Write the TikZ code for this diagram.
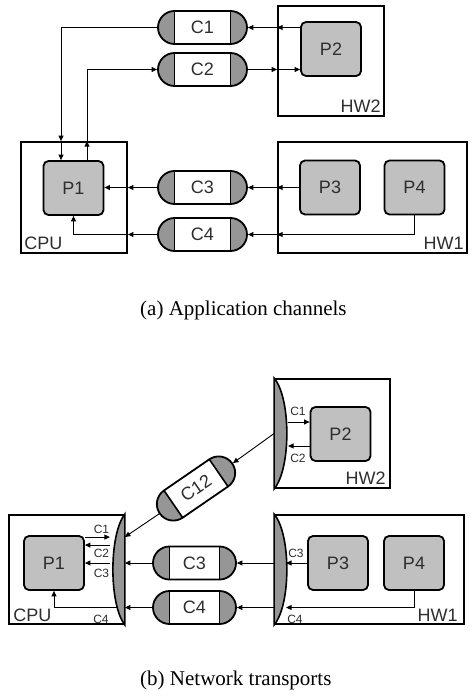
\documentclass[tikz,border=0pt]{standalone}
\usepackage{fontspec}
\setmainfont{Liberation Serif}
\setsansfont{Liberation Sans}
\usetikzlibrary{arrows.meta,calc}

\definecolor{procgray}{RGB}{192,192,192}
\definecolor{capgray}{RGB}{150,150,150}
\definecolor{ink}{RGB}{45,45,45}

% channel: [rotation]{name}{centre}{length}{label}
\newcommand{\chan}[5][0]{%
  \begin{scope}[shift={#3}, rotate=#1]
    \fill[capgray] ({-#4/2+16.5},16.5) arc[start angle=90, end angle=270, radius=16.5pt] -- cycle;
    \fill[capgray] ({#4/2-16.5},-16.5) arc[start angle=-90, end angle=90, radius=16.5pt] -- cycle;
    \draw[line width=1.6pt] ({-#4/2+16.5},16.5) -- ({-#4/2+16.5},-16.5);
    \draw[line width=1.6pt] ({#4/2-16.5},16.5) -- ({#4/2-16.5},-16.5);
    \node[chan, minimum width=#4pt, transform shape] (#2) at (0,0) {#5};
  \end{scope}}

\begin{document}
\begin{tikzpicture}[x=1pt, y=1pt,
    unit/.style={draw, line width=1.8pt, inner sep=0pt},
    proc/.style={draw, line width=1.8pt, rounded corners=5pt, fill=procgray,
      minimum width=60pt, minimum height=54pt, inner sep=0pt,
      font=\fontsize{18}{21}\selectfont\sffamily, text=ink},
    chan/.style={draw, line width=1.8pt, rounded corners=16.5pt, minimum height=33pt,
      inner sep=0pt, font=\fontsize{18}{21}\selectfont\sffamily, text=ink},
    lens/.style={fill=capgray, draw, line width=1.6pt},
    lab/.style={font=\fontsize{18}{21}\selectfont\sffamily, text=ink, inner sep=0pt},
    tag/.style={font=\fontsize{12}{14}\selectfont\sffamily, text=ink, inner sep=0pt},
    caption/.style={font=\fontsize{21}{25}\selectfont, inner sep=0pt},
    arr/.style={-{Triangle[length=5.5pt, width=5pt]}, line width=0.9pt}]
\useasboundingbox (0,0) rectangle (472,-698);

% --- (a) application channels
\node[unit, minimum width=106pt, minimum height=110pt] (hw2) at (331,-61) {};
\node[proc] (p2) at (331,-49) {P2};
\node[lab, anchor=base east] (hw2lab) at ([shift={(-4,4)}]hw2.south east) {HW2};

\node[unit, minimum width=106pt, minimum height=111pt] (cpu) at (74,-197.5) {};
\node[proc] (p1) at (73.5,-188) {P1};
\node[lab, anchor=base west] (cpulab) at ([shift={(4,4)}]cpu.south west) {CPU};

\node[unit, minimum width=189pt, minimum height=111pt] (hw1) at (372.5,-197.5) {};
\node[proc] (p3) at (330,-187.5) {P3};
\node[proc] (p4) at (414.5,-187.5) {P4};
\node[lab, anchor=base east] (hw1lab) at ([shift={(-4,4)}]hw1.south east) {HW1};

\chan{c1}{(202.5,-27.5)}{89}{C1}
\chan{c2}{(202.5,-69.5)}{89}{C2}
\chan{c3}{(202.5,-187.5)}{89}{C3}
\chan{c4}{(202.5,-234.5)}{89}{C4}

\coordinate (p1in) at ([xshift=-12.5]p1.north);
\coordinate (p1out) at ([xshift=13.5]p1.north);
\draw[arr] (p2.west |- c1.east) -- (hw2.west |- c1.east);
\draw[arr] (hw2.west |- c1.east) -- (c1.east);
\draw[arr] (c1.west) -| (cpu.north -| p1in);
\draw[arr] (cpu.north -| p1in) -- (p1in);
\draw[arr] (p1out) -- (cpu.north -| p1out);
\draw[arr] (cpu.north -| p1out) |- (c2.west);
\draw[arr] (c2.east) -- (hw2.west |- c2.east);
\draw[arr] (hw2.west |- c2.east) -- (p2.west |- c2.east);
\draw[arr] (p3.west) -- (hw1.west |- p3.west);
\draw[arr] (hw1.west |- p3.west) -- (c3.east);
\draw[arr] (c3.west) -- (cpu.east |- c3.west);
\draw[arr] (cpu.east |- c3.west) -- (p1.east |- c3.west);
\draw[arr] (p4.south) |- (hw1.west |- c4.east);
\draw[arr] (hw1.west |- c4.east) -- (c4.east);
\draw[arr] (c4.west) -- (cpu.east |- c4.west);
\draw[arr] (cpu.east |- c4.west) -| (p1.south);

\node[caption, anchor=base west] (capa) at (140,-315) {(a) Application channels};

% --- (b) network transports
\node[unit, minimum width=115pt, minimum height=109pt] (hw2b) at (332.5,-433.5) {};
\filldraw[lens] (hw2b.north west) .. controls ([shift={(17,-20)}]hw2b.north west)
  and ([shift={(17,20)}]hw2b.south west) .. (hw2b.south west) -- cycle;
\node[proc] (p2b) at (340.5,-434) {P2};
\node[lab, anchor=base east] (hw2blab) at ([shift={(-5,4)}]hw2b.south east) {HW2};

\node[unit, minimum width=115pt, minimum height=109pt] (cpub) at (66.5,-569.5) {};
\filldraw[lens] (cpub.north east) .. controls ([shift={(-16,-20)}]cpub.north east)
  and ([shift={(-16,20)}]cpub.south east) .. (cpub.south east) -- cycle;
\node[proc] (p1b) at (54,-563) {P1};
\node[lab, anchor=base west] (cpublab) at ([shift={(5,3)}]cpub.south west) {CPU};

\node[unit, minimum width=189pt, minimum height=109pt] (hw1b) at (369.5,-569.5) {};
\filldraw[lens] (hw1b.north west) .. controls ([shift={(17,-20)}]hw1b.north west)
  and ([shift={(17,20)}]hw1b.south west) .. (hw1b.south west) -- cycle;
\node[proc] (p3b) at (338,-563) {P3};
\node[proc] (p4b) at (414,-563) {P4};
\node[lab, anchor=base east] (hw1blab) at ([shift={(-7,3)}]hw1b.south east) {HW1};

\chan[34.5]{c12}{(196,-488.5)}{88}{C12}
\chan{c3b}{(194.5,-563)}{83}{C3}
\chan{c4b}{(194.5,-607.5)}{83}{C4}

\coordinate (cpulens) at ([xshift=-15]cpub.east);
\coordinate (cpulow) at ([xshift=-8]cpub.east);
\coordinate (hw2lens) at ([xshift=14]hw2b.west);
\coordinate (hw1lens) at ([xshift=12]hw1b.west);
\coordinate (cpuin) at ([yshift=32.5]cpub.east);

\draw[arr] (hw2b.west) -- (c12.east);
\draw[arr] (c12.west) -- (cpuin);
\draw[arr] (hw1b.west |- c3b.east) -- (c3b.east);
\draw[arr] (c3b.west) -- (cpub.east |- c3b.west);
\draw[arr] (hw1b.west |- c4b.east) -- (c4b.east);
\draw[arr] (c4b.west) -- (cpub.east |- c4b.west);

% ports inside the boxes
\coordinate (h1) at ([yshift=12]p2b.west);
\coordinate (h2) at ([yshift=-12]p2b.west);
\draw[arr] (hw2lens |- h1) -- (h1);
\draw[arr] (h2) -- (hw2lens |- h2);
\node[tag] (t2a) at (298,-411) {C1};
\node[tag] (t2b) at (298,-458) {C2};

\coordinate (b1) at ([yshift=-2]p1b.north east);
\coordinate (b2) at ([yshift=-10]p1b.north east);
\draw[arr] (b1) -- (cpulens |- b1);
\draw[arr] (cpulens |- b2) -- (b2);
\draw[arr] (cpulens |- p1b.east) -- (p1b.east);
\draw[arr] (cpulow |- c4b.west) -| (p1b.south);
\node[tag] (t1a) at (101.5,-529) {C1};
\node[tag] (t1b) at (101.5,-553) {C2};
\node[tag] (t1c) at (101.5,-573) {C3};
\node[tag] (t1d) at (101,-619) {C4};

\draw[arr] (p3b.west) -- (hw1lens |- p3b.west);
\draw[arr] (p4b.south) |- (hw1lens |- c4b.east);
\node[tag] (t3a) at (296,-553) {C3};
\node[tag] (t3b) at (295,-619) {C4};

\node[caption, anchor=base west] (capb) at (140,-685) {(b) Network transports};
\end{tikzpicture}
\end{document}
